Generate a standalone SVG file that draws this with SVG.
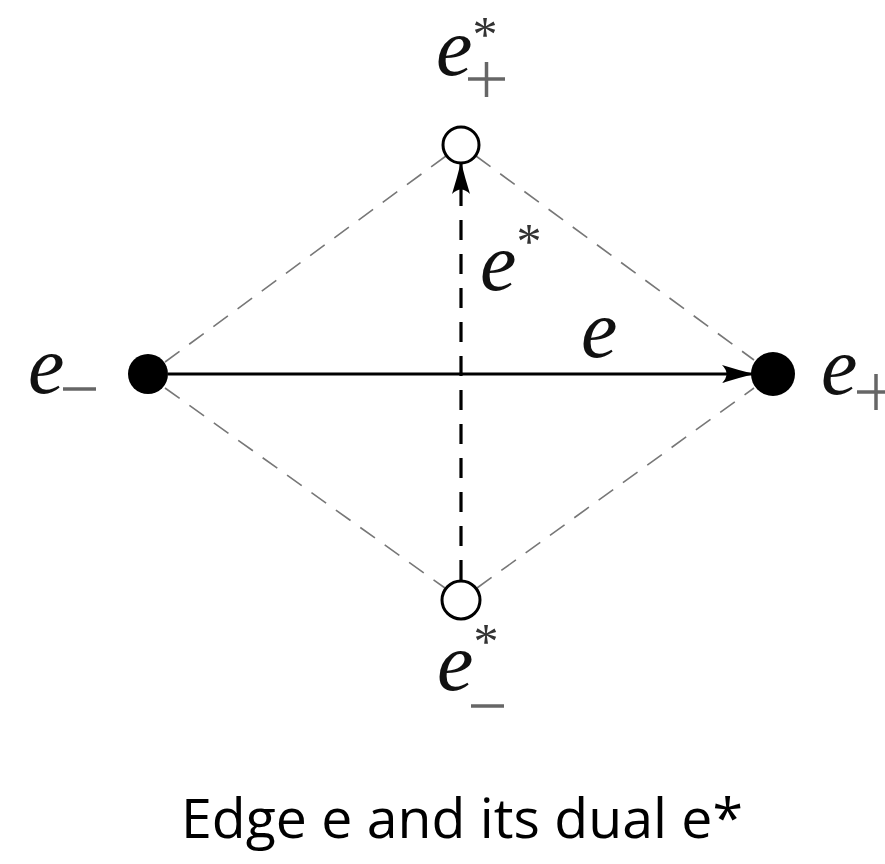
<svg xmlns="http://www.w3.org/2000/svg" width="885" height="864" viewBox="0 0 885 864">
<style>
.lbl{font-family:"Liberation Serif",serif;font-style:italic;font-size:82px;fill:#111}
.sup{font-family:"Liberation Serif",serif;font-style:normal;font-size:50px;fill:#333}
.sub{stroke:#666;stroke-width:3.5}
.gd{stroke:#777;stroke-width:1.6;stroke-dasharray:18 12;fill:none}
.open{fill:#fff;stroke:#000;stroke-width:3}
.fill{fill:#000}
</style>
<defs>
<marker id="ah" markerWidth="34" markerHeight="22" viewBox="0 0 34 22" refX="30" refY="11" orient="auto" markerUnits="userSpaceOnUse">
<path d="M0,2 Q16,7 32,11 Q16,15 0,20 Q9,11 0,2Z" fill="#000"/>
</marker>
</defs>
<rect width="885" height="864" fill="#fff"/>
<g id="connectors">
<line class="gd" x1="165" y1="362" x2="446" y2="156"/>
<line class="gd" x1="476" y1="156" x2="754" y2="360"/>
<line class="gd" x1="165" y1="388" x2="445" y2="588"/>
<line class="gd" x1="477" y1="588" x2="754" y2="388"/>
<line x1="168" y1="374" x2="752" y2="374" stroke="#000" stroke-width="3" marker-end="url(#ah)"/>
<line x1="461" y1="580" x2="461" y2="164" stroke="#000" stroke-width="3.2" stroke-dasharray="20 14" marker-end="url(#ah)"/>
</g>
<g id="n-eplusstar">
<circle class="open" cx="461" cy="145" r="18"/>
<text class="lbl" x="436" y="75">e<tspan class="sup" dx="0" dy="-24">*</tspan></text>
<line class="sub" x1="468" y1="79" x2="505" y2="79"/>
<line class="sub" x1="486.5" y1="62" x2="486.5" y2="97"/>
</g>
<g id="n-eminus">
<circle class="fill" cx="148" cy="374" r="20"/>
<text class="lbl" x="28" y="393">e</text>
<line class="sub" x1="63" y1="389" x2="96" y2="389"/>
</g>
<g id="n-eplus">
<circle class="fill" cx="773" cy="374" r="22"/>
<text class="lbl" x="821" y="394">e</text>
<line class="sub" x1="857" y1="392" x2="885" y2="392"/>
<line class="sub" x1="876" y1="374" x2="876" y2="410"/>
</g>
<g id="n-eminusstar">
<circle class="open" cx="461" cy="600" r="19"/>
<text class="lbl" x="437" y="690">e<tspan class="sup" dy="-32">*</tspan></text>
<line class="sub" x1="471" y1="706" x2="504" y2="706"/>
</g>
<g id="edge-labels">
<text class="lbl" x="480" y="290">e<tspan class="sup" dy="-32">*</tspan></text>
<text class="lbl" x="581" y="357">e</text>
</g>
<text x="462" y="838" text-anchor="middle" font-family="Open Sans, sans-serif" font-size="55" textLength="562" lengthAdjust="spacingAndGlyphs" fill="#000">Edge e and its dual e*</text>
</svg>
